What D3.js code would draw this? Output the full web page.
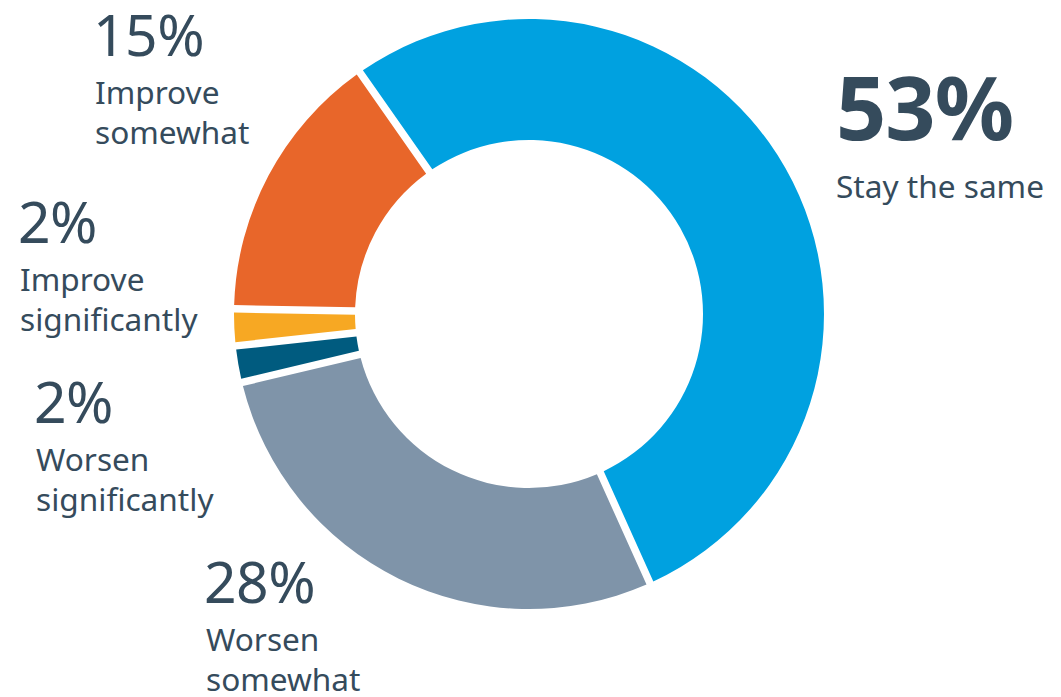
<!DOCTYPE html>
<html>
<head>
<meta charset="utf-8">
<script src="https://cdn.jsdelivr.net/npm/d3@7"></script>
<style>
  html, body { margin: 0; padding: 0; background: #fff; }
  svg { display: block; }
  text { font-family: "Noto Sans", "Open Sans", sans-serif; fill: #354b5c; }
</style>
</head>
<body>
<div id="chart"></div>
<script>
// data, clockwise from the top-left gap
const categories = ["Stay the same", "Worsen somewhat", "Worsen significantly", "Improve significantly", "Improve somewhat"];
const values = [53, 28, 2, 2, 15];
const labelLines = [["Stay the same"], ["Worsen", "somewhat"], ["Worsen", "significantly"], ["Improve", "significantly"], ["Improve", "somewhat"]];
const colors = ["#00a1e0", "#7f94a9", "#005b7f", "#f7a823", "#e8662a"];

// label layout (left x, baseline of the percent)
const labelPos = [
  { x: 836, y: 140, big: true },
  { x: 206, y: 603 },
  { x: 36, y: 423 },
  { x: 20, y: 243 },
  { x: 95, y: 56 }
];

const width = 1061, height = 697;
const box = { cx: 529, cy: 314, outer: 295, inner: 174, gap: 7.5 };

const svg = d3
  .select("#chart")
  .append("svg")
  .attr("width", width)
  .attr("height", height);

const start = (-35 * Math.PI) / 180;
const pie = d3
  .pie()
  .sort(null)
  .value((d) => d)
  .startAngle(start)
  .endAngle(start + 2 * Math.PI);

const arc = d3
  .arc()
  .innerRadius(box.inner)
  .outerRadius(box.outer)
  .padRadius(box.outer)
  .padAngle(box.gap / box.outer);

const color = d3.scaleOrdinal().domain(categories).range(colors);

svg
  .append("g")
  .attr("transform", "translate(" + box.cx + "," + box.cy + ")")
  .selectAll("path")
  .data(pie(values))
  .join("path")
  .attr("fill", (d, i) => color(categories[i]))
  .attr("d", arc);

// labels
const labels = svg
  .selectAll("g.label")
  .data(values)
  .join("g")
  .attr("class", "label")
  .attr("transform", (d, i) => "translate(" + labelPos[i].x + "," + labelPos[i].y + ")");

labels
  .append("text")
  .attr("x", (d, i) => (labelPos[i].big ? 0 : -2))
  .style("font-size", (d, i) => (labelPos[i].big ? "88px" : "57px"))
  .style("font-weight", (d, i) => (labelPos[i].big ? 700 : 400))
  .style("letter-spacing", (d, i) => (labelPos[i].big ? "-1px" : "-0.5px"))
  .text((d) => d + "%");

labels.each(function (d, i) {
  const g = d3.select(this);
  const first = labelPos[i].big ? 58 : 48;
  labelLines[i].forEach((line, k) => {
    g.append("text")
      .attr("y", first + k * 40)
      .style("font-size", "31.6px")
      .text(line);
  });
});
</script>
</body>
</html>
